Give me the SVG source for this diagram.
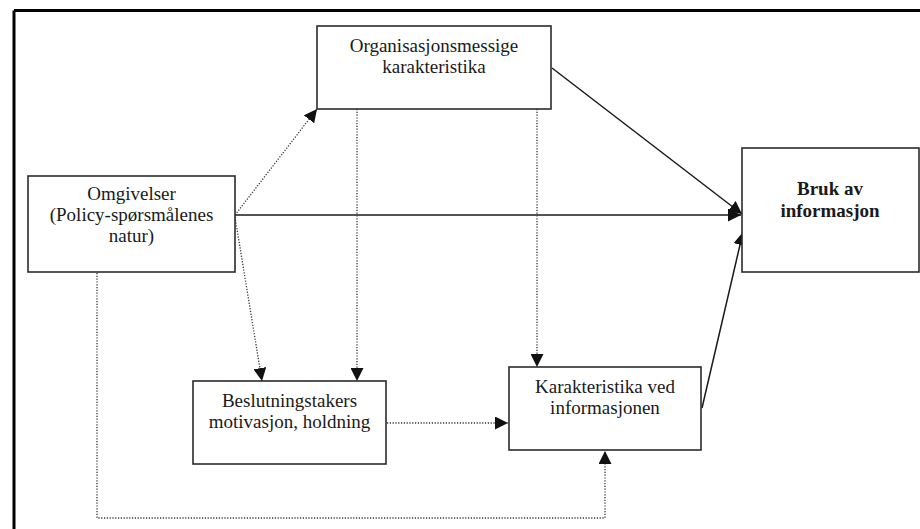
<svg xmlns="http://www.w3.org/2000/svg" width="920" height="529" viewBox="0 0 920 529">
  <style>
    .box { fill: #ffffff; stroke: #2b2b2b; stroke-width: 1.6; }
    .lbl { font-family: 'Liberation Serif', 'DejaVu Serif', serif; font-size: 19px; fill: #1a1a1a; text-anchor: middle; }
    .bold { font-weight: bold; }
    .solid { fill: none; stroke: #1a1a1a; stroke-width: 1.5; }
    .dot { fill: none; stroke: #333333; stroke-width: 1.3; stroke-dasharray: 1.2 1.6; }
  </style>
  <defs>
    <marker id="head" viewBox="0 0 12 12" refX="12" refY="6" markerWidth="13" markerHeight="13" markerUnits="userSpaceOnUse" orient="auto">
      <path d="M0,0 L12,6 L0,12 Z" fill="#111111"/>
    </marker>
  </defs>

  <rect width="920" height="529" fill="#ffffff"/>

  <!-- outer frame (open at right and bottom) -->
  <path d="M14,10.5 H920 M14,10.5 V529" fill="none" stroke="#000000" stroke-width="3"/>

  <!-- connectors -->
  <g id="connectors">
    <path class="dot" d="M235,215 L317,109" marker-end="url(#head)"/>
    <path class="solid" d="M235,215 L741,215" marker-end="url(#head)"/>
    <path class="dot" d="M235,217 L262,381" marker-end="url(#head)"/>
    <path class="dot" d="M357,109 L357,381" marker-end="url(#head)"/>
    <path class="dot" d="M537,109 L537,367" marker-end="url(#head)"/>
    <path class="solid" d="M552,68 L742,214" marker-end="url(#head)"/>
    <path class="solid" d="M702,408 L743,232" marker-end="url(#head)"/>
    <path class="dot" d="M387,423 L508,423" marker-end="url(#head)"/>
    <path class="dot" d="M97,273 V518 H605 V451" marker-end="url(#head)"/>
  </g>

  <g font-family="Liberation Serif, DejaVu Serif, serif">
    <g id="org">
      <rect class="box" x="317" y="26" width="234" height="83"/>
      <text class="lbl" x="434" y="52">Organisasjonsmessige</text>
      <text class="lbl" x="434" y="73">karakteristika</text>
    </g>

    <g id="omgivelser">
      <rect class="box" x="28" y="176" width="207" height="96"/>
      <text class="lbl" x="131.5" y="200">Omgivelser</text>
      <text class="lbl" x="131.5" y="221">(Policy-spørsmålenes</text>
      <text class="lbl" x="131.5" y="242">natur)</text>
    </g>

    <g id="bruk">
      <rect class="box" x="742" y="148" width="177" height="124"/>
      <text class="lbl bold" x="830" y="195">Bruk av</text>
      <text class="lbl bold" x="830" y="217">informasjon</text>
    </g>

    <g id="beslutning">
      <rect class="box" x="193" y="381" width="193" height="83"/>
      <text class="lbl" x="289.5" y="407">Beslutningstakers</text>
      <text class="lbl" x="289.5" y="428">motivasjon, holdning</text>
    </g>

    <g id="karakteristika">
      <rect class="box" x="509" y="367" width="192" height="83"/>
      <text class="lbl" x="605" y="393">Karakteristika ved</text>
      <text class="lbl" x="605" y="414">informasjonen</text>
    </g>
  </g>
</svg>
